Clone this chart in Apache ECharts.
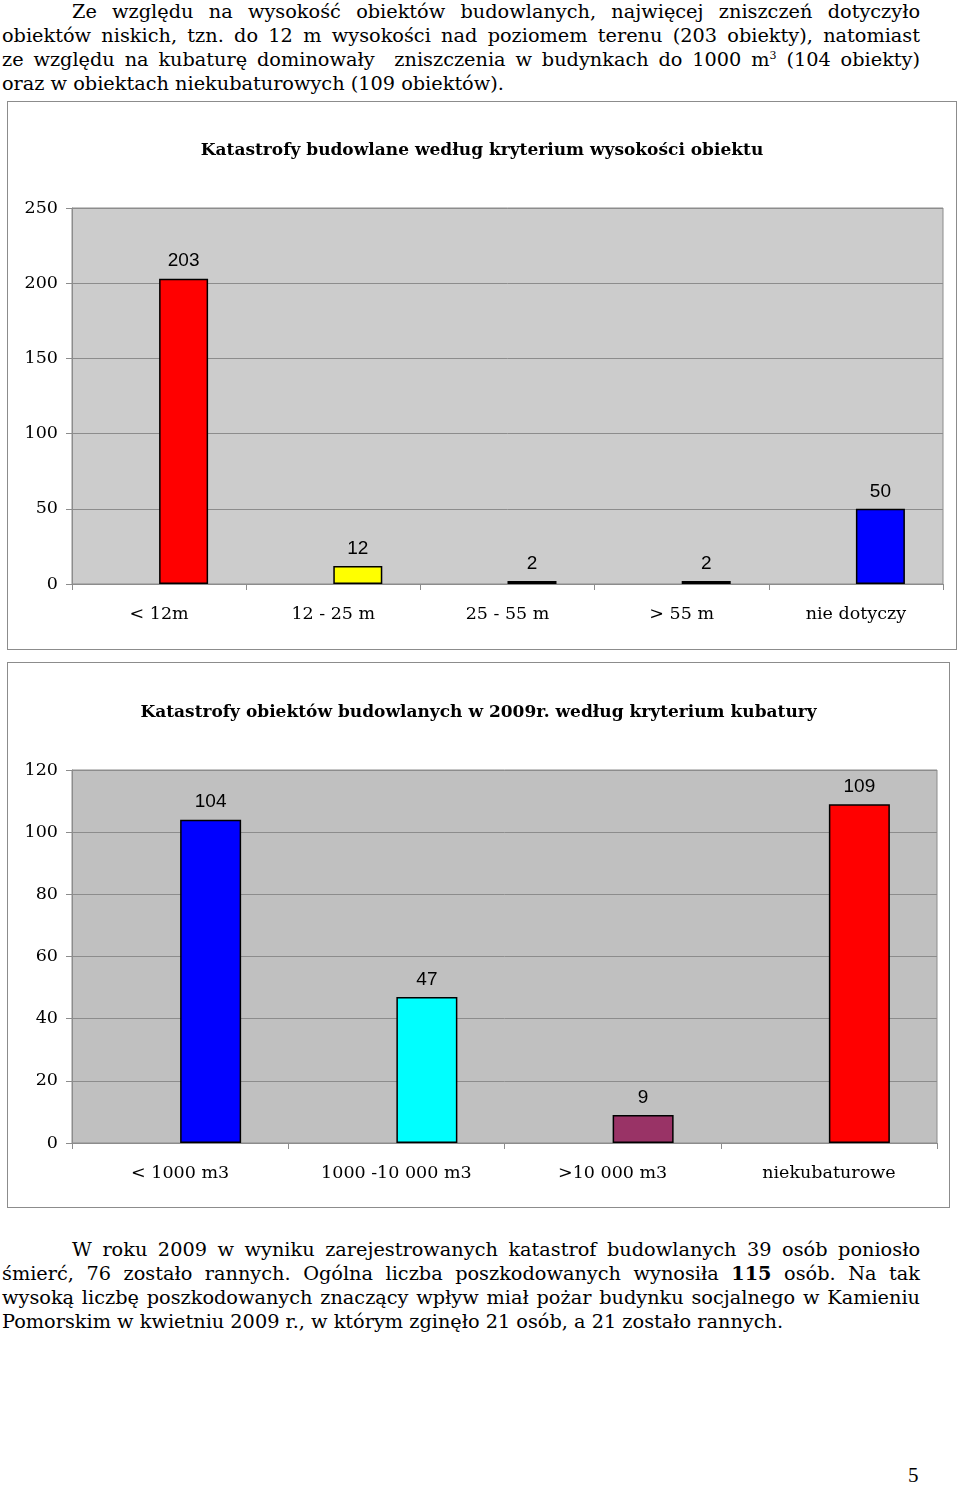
<!DOCTYPE html>
<html>
<head>
<meta charset="utf-8">
<script src="https://cdn.jsdelivr.net/npm/echarts@6/dist/echarts.min.js"></script>
<style>
  html, body { margin:0; padding:0; background:#fff; }
  body { width:960px; height:1486px; position:relative; overflow:hidden; }
  .para { position:absolute; left:2px; width:918px; font-family:"DejaVu Serif", serif; font-size:19.3px; line-height:24px; color:#000; }
  .ln { text-align:justify; text-align-last:justify; height:24px; white-space:normal; }
  .ln.ind { padding-left:70px; }
  .ln.last { text-align:left; text-align-last:left; }
  sup { font-size:11px; vertical-align:7px; line-height:0; }
  .box { position:absolute; border:1px solid #8c8c8c; background:#fff; }
  #page { position:absolute; left:908px; top:1463px; font-family:"Liberation Serif", serif; font-size:21px; }
</style>
</head>
<body>
<div class="para" style="top:0px;">
  <div class="ln ind">Ze względu na wysokość obiektów budowlanych, najwięcej zniszczeń dotyczyło</div>
  <div class="ln">obiektów niskich, tzn. do 12 m wysokości nad poziomem terenu (203 obiekty), natomiast</div>
  <div class="ln">ze względu na kubaturę dominowały&nbsp; zniszczenia w budynkach do 1000 m<sup>3</sup> (104 obiekty)</div>
  <div class="ln last">oraz w obiektach niekubaturowych (109 obiektów).</div>
</div>

<div id="c1" class="box" style="left:7px; top:101px; width:948px; height:547px;"></div>
<div id="c2" class="box" style="left:7px; top:662px; width:941px; height:544px;"></div>

<div class="para" style="top:1238px;">
  <div class="ln ind">W roku 2009 w wyniku zarejestrowanych katastrof budowlanych 39 osób poniosło</div>
  <div class="ln">śmierć, 76 zostało rannych. Ogólna liczba poszkodowanych wynosiła <b>115</b> osób. Na tak</div>
  <div class="ln">wysoką liczbę poszkodowanych znaczący wpływ miał pożar budynku socjalnego w Kamieniu</div>
  <div class="ln last">Pomorskim w kwietniu 2009 r., w którym zginęło 21 osób, a 21 zostało rannych.</div>
</div>
<div id="page">5</div>

<script>
// ---- Chart 1 data ----
const title1 = 'Katastrofy budowlane według kryterium wysokości obiektu';
const categories1 = ['< 12m', '12 - 25 m', '25 - 55 m', '> 55 m', 'nie dotyczy'];
const values1 = [203, 12, 2, 2, 50];
const colors1 = ['#ff0000', '#ffff00', '#993366', '#993366', '#0000ff'];
const yTicks1 = { min: 0, max: 250, interval: 50 };

// ---- Chart 2 data ----
const title2 = 'Katastrofy obiektów budowlanych w 2009r. według kryterium kubatury';
const categories2 = ['< 1000 m3', '1000 -10 000 m3', '>10 000 m3', 'niekubaturowe'];
const values2 = [104, 47, 9, 109];
const colors2 = ['#0000ff', '#00ffff', '#993366', '#ff0000'];
const yTicks2 = { min: 0, max: 120, interval: 20 };

function makeOption(title, cats, vals, cols, ticks, grid, bg, barW, titleTop) {
  return {
    animation: false,
    title: {
      text: title, left: 'center', top: titleTop,
      textStyle: { fontFamily: 'DejaVu Serif', fontWeight: 'bold', fontSize: 17, color: '#000' }
    },
    grid: Object.assign({ backgroundColor: bg, show: true, borderColor: '#8c8c8c', borderWidth: 1 }, grid),
    xAxis: {
      type: 'category', data: cats,
      axisLine: { lineStyle: { color: '#8c8c8c', width: 1 } },
      axisTick: { show: true, alignWithLabel: false, length: 6, lineStyle: { color: '#8c8c8c' } },
      axisLabel: { fontFamily: 'DejaVu Serif', fontSize: 17.5, color: '#000', margin: 21 }
    },
    yAxis: {
      type: 'value', min: ticks.min, max: ticks.max, interval: ticks.interval,
      axisLine: { show: true, lineStyle: { color: '#8c8c8c' } },
      axisTick: { show: true, length: 6, lineStyle: { color: '#8c8c8c' } },
      splitLine: { lineStyle: { color: '#8c8c8c', width: 1 } },
      axisLabel: { fontFamily: 'DejaVu Serif', fontSize: 17.5, color: '#000', margin: 14 }
    },
    series: [
      { type: 'bar', barWidth: barW, barGap: '0%', data: cats.map(() => null), silent: true },
      {
        type: 'bar', barWidth: barW, barGap: '0%',
        data: vals.map((v, i) => ({ value: v, itemStyle: { color: cols[i] } })),
        itemStyle: { borderColor: '#000', borderWidth: 1.5 },
        label: { show: true, position: 'top', distance: 8, fontFamily: 'Liberation Sans', fontSize: 19, color: '#000' }
      }
    ]
  };
}

const c1 = echarts.init(document.getElementById('c1'));
c1.setOption(makeOption(title1, categories1, values1, colors1, yTicks1,
  { left: 64, top: 106, width: 871, height: 376 }, '#cccccc', 49, 35));

const c2 = echarts.init(document.getElementById('c2'));
c2.setOption(makeOption(title2, categories2, values2, colors2, yTicks2,
  { left: 64, top: 107, width: 865, height: 373 }, '#c0c0c0', 61, 36));
</script>
</body>
</html>
